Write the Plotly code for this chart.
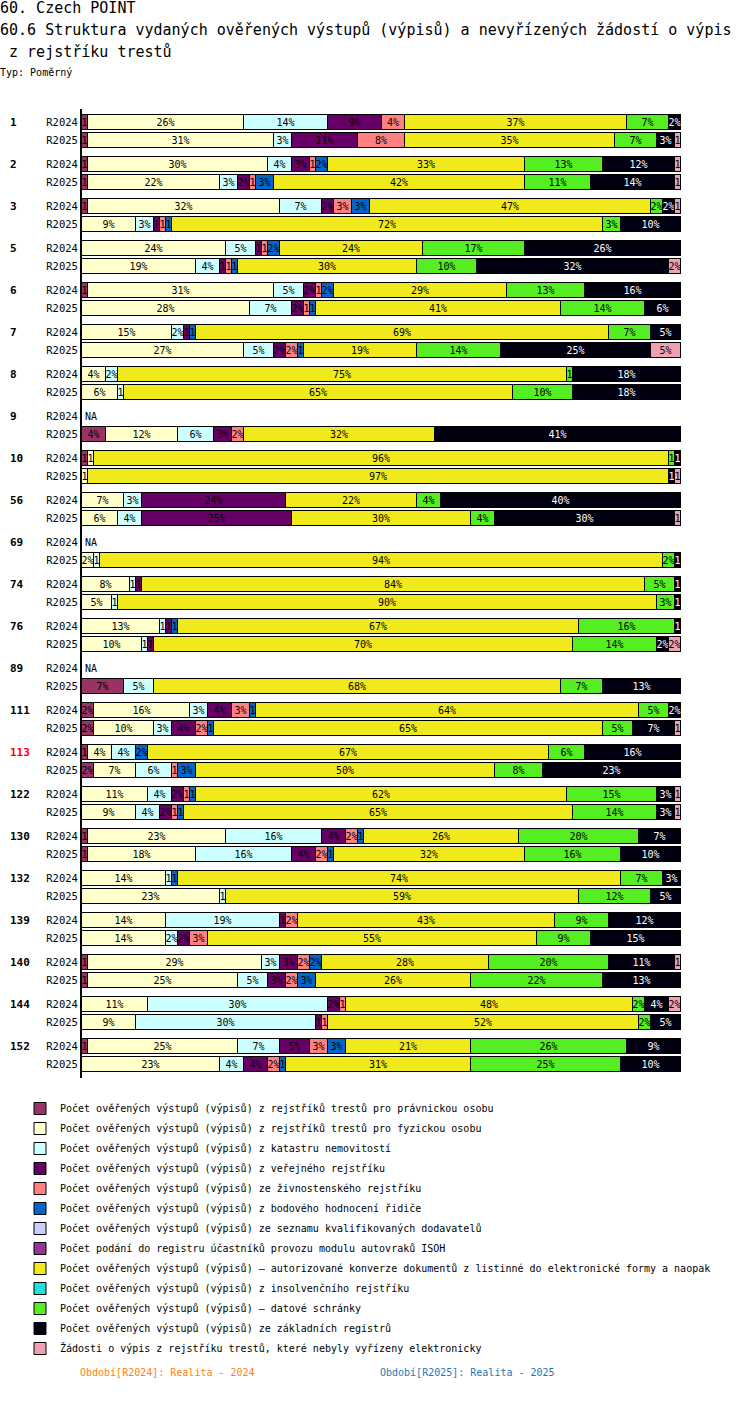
import plotly.graph_objects as go

N = None
groups = ["1", "2", "3", "5", "6", "7", "8", "9", "10", "56", "69", "74", "76", "89",
          "111", "113", "122", "130", "132", "139", "140", "144", "152"]
periods = ["R2024", "R2025"]
highlight_group = "113"

series_names = [
    "Počet ověřených výstupů (výpisů) z rejstříků trestů pro právnickou osobu",
    "Počet ověřených výstupů (výpisů) z rejstříků trestů pro fyzickou osobu",
    "Počet ověřených výstupů (výpisů) z katastru nemovitostí",
    "Počet ověřených výstupů (výpisů) z veřejného rejstříku",
    "Počet ověřených výstupů (výpisů) ze živnostenského rejstříku",
    "Počet ověřených výstupů (výpisů) z bodového hodnocení řidiče",
    "Počet ověřených výstupů (výpisů) ze seznamu kvalifikovaných dodavatelů",
    "Počet podání do registru účastníků provozu modulu autovraků ISOH",
    "Počet ověřených výstupů (výpisů) – autorizované konverze dokumentů z listinné do elektronické formy a naopak",
    "Počet ověřených výstupů (výpisů) z insolvenčního rejstříku",
    "Počet ověřených výstupů (výpisů) – datové schránky",
    "Počet ověřených výstupů (výpisů) ze základních registrů",
    "Žádosti o výpis z rejstříku trestů, které nebyly vyřízeny elektronicky",
]
series_colors = ["#993366", "#ffffcc", "#ccffff", "#660066", "#ff8080", "#0066cc",
                 "#ccccff", "#993399", "#f0ea1c", "#22e0e0", "#55ee22", "#000010", "#f0a0b4"]
text_colors = ["black"] * 11 + ["white", "black"]

# values in %, pairs per group (R2024, R2025); None = NA
pravnicka = [1, 1, 1, 1, 1, 0, 0, 0, 1, 0, 0, 0, 0, 0, N, 4, 1, 0, 0, 0, N, 0, 0, 0,
             0, 0, N, 7, 2, 2, 1, 2, 0, 0, 1, 1, 0, 0, 0, 0, 1, 1, 0, 0, 1, 0]
fyzicka = [26, 31, 30, 22, 32, 9, 24, 19, 31, 28, 15, 27, 4, 6, N, 12, 1, 1, 7, 6, N, 2, 8, 5,
           13, 10, N, 0, 16, 10, 4, 7, 11, 9, 23, 18, 14, 23, 14, 14, 29, 25, 11, 9, 25, 23]
katastr = [14, 3, 4, 3, 7, 3, 5, 4, 5, 7, 2, 5, 2, 1, N, 6, 0, 0, 3, 4, N, 1, 1, 1,
           1, 1, N, 5, 3, 3, 4, 6, 4, 4, 16, 16, 1, 1, 19, 2, 3, 5, 30, 30, 7, 4]
verejny = [9, 11, 3, 2, 2, 1, 1, 1, 2, 2, 1, 2, 0, 0, N, 3, 0, 0, 24, 25, N, 0, 1, 0,
           1, 1, N, 0, 4, 4, 0, 0, 2, 2, 4, 4, 0, 0, 1, 2, 3, 3, 2, 1, 5, 4]
zivnostensky = [4, 8, 1, 1, 3, 1, 1, 1, 1, 1, 0, 2, 0, 0, N, 2, 0, 0, 0, 0, N, 0, 0, 0,
                0, 0, N, 0, 3, 2, 0, 1, 1, 1, 2, 2, 0, 0, 2, 3, 2, 2, 1, 1, 3, 2]
bodove = [0, 0, 2, 3, 3, 1, 2, 1, 2, 1, 1, 1, 0, 0, N, 0, 0, 0, 0, 0, N, 0, 0, 0,
          1, 0, N, 0, 1, 1, 2, 3, 1, 1, 1, 1, 1, 0, 0, 0, 2, 3, 0, 0, 3, 1]
dodavatele = [0] * 46
isoh = [0] * 46
konverze = [37, 35, 33, 42, 47, 72, 24, 30, 29, 41, 69, 19, 75, 65, N, 32, 96, 97, 22, 30, N, 94, 84, 90,
            67, 70, N, 68, 64, 65, 67, 50, 62, 65, 26, 32, 74, 59, 43, 55, 28, 26, 48, 52, 21, 31]
insolvence = [0] * 46
datove = [7, 7, 13, 11, 2, 3, 17, 10, 13, 14, 7, 14, 1, 10, N, 0, 1, 0, 4, 4, N, 2, 5, 3,
          16, 14, N, 7, 5, 5, 6, 8, 15, 14, 20, 16, 7, 12, 9, 9, 20, 22, 2, 2, 26, 25]
zakladni = [2, 3, 12, 14, 2, 10, 26, 32, 16, 6, 5, 25, 18, 18, N, 41, 1, 1, 40, 30, N, 1, 1, 1,
            1, 2, N, 13, 2, 7, 16, 23, 3, 3, 7, 10, 3, 5, 12, 15, 11, 13, 4, 5, 9, 10]
zadosti = [0, 1, 1, 1, 1, 0, 0, 2, 0, 0, 0, 5, 0, 0, N, 0, 0, 1, 0, 1, N, 0, 0, 0,
           0, 2, N, 0, 0, 1, 0, 0, 1, 1, 0, 0, 0, 0, 0, 0, 1, 0, 2, 0, 0, 0]

series_values = [pravnicka, fyzicka, katastr, verejny, zivnostensky, bodove, dodavatele,
                 isoh, konverze, insolvence, datove, zakladni, zadosti]

# row positions (reversed axis): group step 7, period step 3
ypos = []
ylab = []
for gi, g in enumerate(groups):
    for pi, p in enumerate(periods):
        ypos.append(gi * 7 + pi * 3)
        ylab.append(p)

MONO = "DejaVu Sans Mono"
fig = go.Figure()
for name, col, tcol, vals in zip(series_names, series_colors, text_colors, series_values):
    xs = [v if (v is not None and v > 0) else None for v in vals]
    txt = []
    for v in vals:
        if v is None or v <= 0:
            txt.append("")
        elif v < 2:
            txt.append("1")
        else:
            txt.append(f"{v}%")
    fig.add_trace(go.Bar(
        x=xs, y=ypos, orientation="h", name=name, legendgroup=name,
        marker=dict(color=col, line=dict(color="black", width=1)),
        width=2.5, text=txt, textposition="inside", insidetextanchor="middle",
        textangle=0, constraintext="none", cliponaxis=False,
        insidetextfont=dict(family=MONO, size=10, color=tcol),
        hovertemplate="%{x}%<extra>" + name + "</extra>",
    ))

H = 1078 - 109


def py(pix):
    return (1078 - pix) / H


def px(pix):
    return (pix - 82) / 599


annotations = []
# group labels
for gi, g in enumerate(groups):
    annotations.append(dict(
        x=px(8), xref="paper", y=gi * 7, yref="y", text=f"<b>{g}</b>",
        showarrow=False, xanchor="left", yanchor="middle",
        font=dict(family=MONO, size=11, color="red" if g == highlight_group else "black")))
# NA labels
for i, yv in enumerate(ypos):
    if all(s[i] is None or s[i] == 0 for s in series_values):
        annotations.append(dict(
            x=0, xref="x", y=yv, yref="y", text="NA", showarrow=False,
            xanchor="left", xshift=1, yanchor="middle",
            font=dict(family=MONO, size=10, color="black")))

titles = [
    ("60. Czech POINT", 8, 15),
    ("60.6 Struktura vydaných ověřených výstupů (výpisů) a nevyřízených žádostí o výpis", 30, 15),
    ("\u00a0z rejstříku trestů", 52, 15),
    ("Typ: Poměrný", 72, 10),
]
for t, yp, fs in titles:
    annotations.append(dict(
        x=px(-2), xref="paper", y=py(yp), yref="paper", text=t, showarrow=False,
        xanchor="left", yanchor="middle", font=dict(family=MONO, size=fs, color="black")))

annotations.append(dict(
    x=px(78), xref="paper", y=py(1372), yref="paper", text="Období[R2024]: Realita - 2024",
    showarrow=False, xanchor="left", yanchor="middle",
    font=dict(family=MONO, size=10, color="#ff7f0e")))
annotations.append(dict(
    x=px(378), xref="paper", y=py(1372), yref="paper", text="Období[R2025]: Realita - 2025",
    showarrow=False, xanchor="left", yanchor="middle",
    font=dict(family=MONO, size=10, color="#1f77b4")))

fig.update_layout(
    width=750, height=1410,
    margin=dict(l=82, r=69, t=109, b=332, pad=0),
    paper_bgcolor="white", plot_bgcolor="white",
    barmode="stack", bargap=0,
    showlegend=True,
    legend=dict(
        x=px(20), y=py(1094), xanchor="left", yanchor="top",
        orientation="v", traceorder="grouped", tracegroupgap=1,
        font=dict(family=MONO, size=10, color="black"),
        bgcolor="rgba(0,0,0,0)", itemclick=False,
    ),
    xaxis=dict(range=[0, 100], visible=False, fixedrange=True),
    yaxis=dict(
        range=[159.3, -2.17], tickmode="array", tickvals=ypos, ticktext=ylab,
        showline=True, linecolor="black", linewidth=2, ticks="", showgrid=False,
        zeroline=False, tickfont=dict(family=MONO, size=10.5, color="black"),
        ticklabelstandoff=0, fixedrange=True,
    ),
    annotations=annotations,
    font=dict(family=MONO),
)

fig.write_html("out.html", config={"displayModeBar": False},
               post_script="document.body.style.margin='0';")
